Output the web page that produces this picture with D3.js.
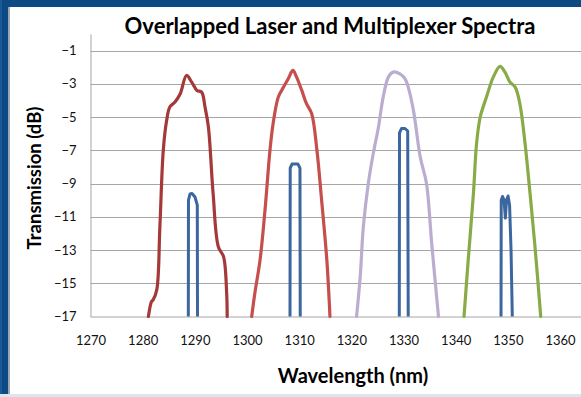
<!DOCTYPE html>
<html>
<head>
<meta charset="utf-8">
<script src="https://cdn.jsdelivr.net/npm/d3@7"></script>
<style>
  html, body { margin: 0; padding: 0; background: #fff; }
  svg { display: block; font-family: Lato, "Open Sans", sans-serif; }
</style>
</head>
<body>
<svg id="chart" width="581" height="397"></svg>
<script>
// wavelength (nm), transmission (dB)
const laser1 = [[1281.1,-17],[1281.7,-16.1],[1282.0,-16.0],[1282.7,-15.4],[1283.3,-11.6],[1283.95,-7.0],[1284.6,-5.2],
  [1285.2,-4.4],[1286.2,-4.1],[1287.2,-3.6],[1288.4,-2.5],[1289.4,-2.9],[1290.4,-3.4],[1291.3,-3.5],[1291.95,-4.4],
  [1292.6,-5.6],[1293.5,-9.6],[1294.5,-12.8],[1295.5,-13.4],[1296.1,-15.6],[1296.2,-17]];
const laser2 = [[1300.9,-17],[1301.5,-15.6],[1302.5,-13.6],[1303.45,-10.6],[1304.4,-7.0],[1305.0,-5.4],[1306.0,-3.8],
  [1307.0,-3.2],[1307.9,-2.7],[1308.8,-2.2],[1309.5,-2.6],[1310.5,-3.4],[1311.4,-4.2],[1312.4,-4.8],[1313.4,-7.0],
  [1314.3,-10.0],[1315.3,-13.6],[1315.9,-17]];
const laser3 = [[1321.0,-17],[1321.7,-14.6],[1322.3,-11.6],[1323.25,-9.0],[1324.2,-7.2],[1325.2,-5.6],[1326.1,-3.8],
  [1327.1,-2.6],[1328.0,-2.3],[1329.3,-2.4],[1330.3,-2.7],[1330.9,-3.2],[1331.9,-4.6],[1333.2,-7.4],[1334.4,-9.0],
  [1335.4,-12.6],[1336.7,-17]];
const laser4 = [[1341.6,-17],[1342.4,-13.6],[1343.4,-9.6],[1344.0,-6.6],[1344.7,-5.0],[1345.9,-3.8],[1347.2,-2.6],
  [1348.5,-1.95],[1349.45,-2.3],[1350.4,-2.9],[1351.4,-3.2],[1352.3,-4.2],[1353.3,-6.6],[1354.25,-9.6],[1355.2,-12.8],
  [1356.3,-17]];
const mux1 = [[1288.75,-17],[1288.78,-10.0],[1289.07,-9.63],[1289.46,-9.6],[1290.03,-9.81],[1290.47,-10.3],[1290.51,-17]];
const mux2 = [[1308.24,-17],[1308.28,-8.07],[1308.62,-7.83],[1309.77,-7.83],[1310.15,-8.07],[1310.2,-17]];
const mux3 = [[1329.19,-17],[1329.23,-5.96],[1329.61,-5.69],[1330.28,-5.69],[1330.8,-5.84],[1330.9,-17]];
const mux4 = [[1348.69,-17],[1348.73,-10.0],[1348.98,-9.78],[1349.27,-10.0],[1349.52,-11.08],[1349.75,-10.0],
  [1350.04,-9.75],[1350.33,-10.3],[1350.61,-13.0],[1350.85,-17]];

const xTicks = [1270, 1280, 1290, 1300, 1310, 1320, 1330, 1340, 1350, 1360];
const yTicks = [-17, -15, -13, -11, -9, -7, -5, -3, -1];

const lasers = [laser1, laser2, laser3, laser4];
const laserColors = ['#a5393a', '#c44f4c', '#bbadd0', '#88ab47'];
const muxes = [mux1, mux2, mux3, mux4];

const svg = d3.select('#chart');
const W = 581, H = 397;

// frame
svg.append('rect').attr('width', W).attr('height', H).attr('fill', '#fff');
svg.append('rect').attr('x', 0).attr('y', 0).attr('width', 8).attr('height', H).attr('fill', '#0d4a82');
svg.append('rect').attr('x', 0).attr('y', 0).attr('width', W).attr('height', 7).attr('fill', '#0d4a82');
svg.append('rect').attr('x', 0).attr('y', 0).attr('width', 2).attr('height', H).attr('fill', '#175a98');
svg.append('rect').attr('x', 8).attr('y', 7).attr('width', 2).attr('height', H).attr('fill', '#9aa7b4');
svg.append('rect').attr('x', 0).attr('y', 394).attr('width', W).attr('height', 3).attr('fill', '#dce6f1');

const m = {left: 90.5, top: 33.9, bottom: 316.5};
const x = d3.scaleLinear().domain([1270, 1370]).range([m.left, m.left + 521.7]);
const y = d3.scaleLinear().domain([-17, 0]).range([m.bottom, m.top]);

// gridlines
svg.append('g').selectAll('line').data(yTicks.filter(d => d > -17)).join('line')
  .attr('x1', m.left).attr('x2', W)
  .attr('y1', d => Math.round(y(d)) + 0.5).attr('y2', d => Math.round(y(d)) + 0.5)
  .attr('stroke', '#a6a6a6').attr('stroke-width', 1);

// axes
const yAxis = svg.append('g').attr('transform', `translate(${m.left},0)`)
  .call(d3.axisLeft(y).tickValues(yTicks).tickSize(0).tickPadding(14));
yAxis.select('.domain').attr('stroke', '#a6a6a6');
yAxis.selectAll('text').attr('font-size', 13).attr('fill', '#111').attr('font-family', 'Lato, sans-serif');

const xAxis = svg.append('g').attr('transform', `translate(0,${m.bottom})`)
  .call(d3.axisBottom(x).tickValues(xTicks).tickSize(0).tickPadding(19).tickFormat(d3.format('d')));
xAxis.select('.domain').attr('stroke', '#a6a6a6').attr('d', `M${m.left},0.5H${W}`);
xAxis.selectAll('text').attr('font-size', 13).attr('fill', '#111').attr('font-family', 'Lato, sans-serif');

// series
const laserLine = d3.line().x(d => x(d[0])).y(d => y(d[1])).curve(d3.curveCatmullRom.alpha(0.5));
const muxLine = d3.line().x(d => x(d[0])).y(d => y(d[1]));
svg.append('g').selectAll('path').data(lasers).join('path')
  .attr('d', laserLine).attr('fill', 'none')
  .attr('stroke', (d, i) => laserColors[i]).attr('stroke-width', 3.2)
  .attr('stroke-linejoin', 'round').attr('stroke-linecap', 'round');
svg.append('g').selectAll('path').data(muxes).join('path')
  .attr('d', muxLine).attr('fill', 'none')
  .attr('stroke', '#3b679e').attr('stroke-width', 3)
  .attr('stroke-linejoin', 'round');

// titles
svg.append('text').attr('x', 330).attr('y', 34).attr('text-anchor', 'middle')
  .attr('font-size', 22).attr('font-weight', 'bold').attr('fill', '#000')
  .text('Overlapped Laser and Multiplexer Spectra');
svg.append('text').attr('x', 353).attr('y', 383).attr('text-anchor', 'middle')
  .attr('font-size', 20).attr('font-weight', 'bold').attr('fill', '#000')
  .text('Wavelength (nm)');
svg.append('text').attr('transform', 'translate(41,178) rotate(-90)').attr('text-anchor', 'middle')
  .attr('font-size', 18.5).attr('font-weight', 'bold').attr('fill', '#000')
  .text('Transmission (dB)');
</script>
</body>
</html>
